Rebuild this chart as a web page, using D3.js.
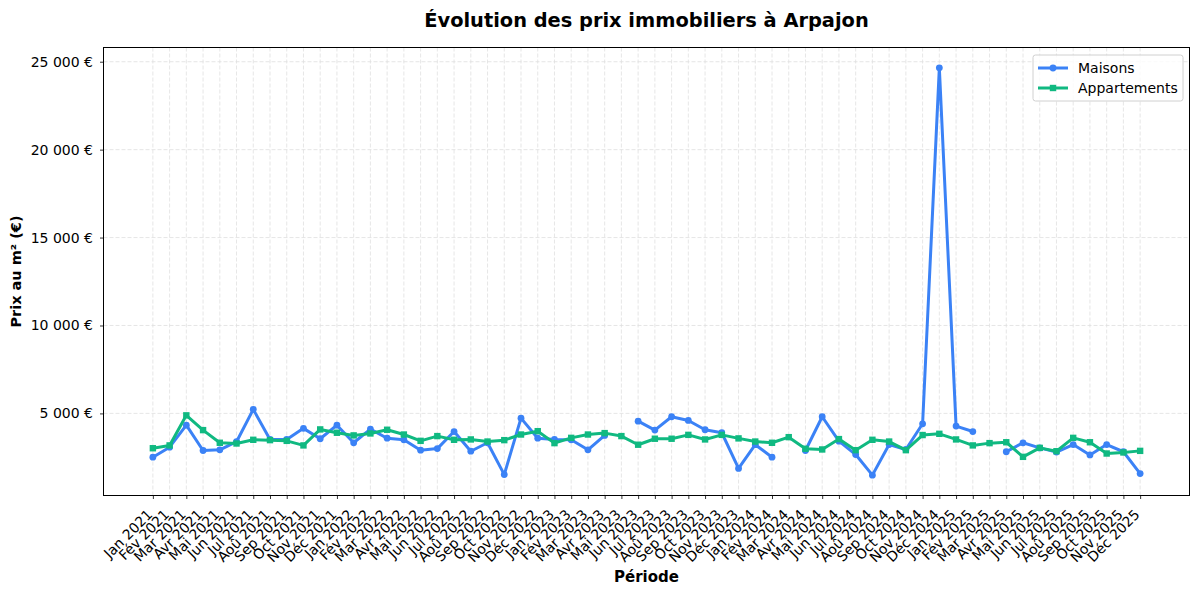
<!DOCTYPE html>
<html>
<head>
<meta charset="utf-8">
<script src="https://cdn.jsdelivr.net/npm/d3@7"></script>
<style>
  html, body { margin: 0; padding: 0; background: #fff; }
  svg { display: block; font-family: "DejaVu Sans", sans-serif; }
</style>
</head>
<body>
<svg id="chart" width="1200" height="594"></svg>
<script>
const monthNames = ["Jan","Fév","Mar","Avr","Mai","Jun","Jul","Aoû","Sep","Oct","Nov","Déc"];
const years = [2021, 2022, 2023, 2024, 2025];
const periods = years.flatMap(y => monthNames.map(m => m + " " + y));

const maisons = [
  2510, 3080, 4330, 2890, 2930, 3390, 5230, 3520, 3520, 4150, 3560, 4330,
  3330, 4110, 3590, 3500, 2910, 3000, 3970, 2850, 3330, 1520, 4730, 3590,
  3520, 3500, 2930, 3750, null, 4560, 4050, 4810, 4600, 4070, 3900, 1870,
  3220, 2510, null, 2890, 4810, 3420, 2660, 1490, 3230, 2950, 4410, 24650,
  4280, 3970, null, 2820, 3330, 3040, 2800, 3230, 2640, 3230, 2820, 1580
];
const appartements = [
  3020, 3180, 4890, 4050, 3330, 3290, 3500, 3480, 3440, 3180, 4090, 3900,
  3750, 3860, 4070, 3800, 3440, 3710, 3500, 3520, 3400, 3480, 3800, 3990,
  3310, 3610, 3800, 3880, 3710, 3220, 3560, 3560, 3780, 3520, 3780, 3580,
  3400, 3330, 3650, 2990, 2950, 3540, 2910, 3500, 3400, 2910, 3770, 3840,
  3520, 3180, 3310, 3360, 2530, 3040, 2850, 3610, 3360, 2720, 2780, 2870
];
const yTicks = [5000, 10000, 15000, 20000, 25000];

const series = [
  { name: "Maisons", values: maisons, color: "#3b82f6", marker: "circle" },
  { name: "Appartements", values: appartements, color: "#10b981", marker: "square" }
];

const svg = d3.select("#chart");
const m = { left: 103.5, top: 47.5, right: 1189.5, bottom: 495.5 };

const n = periods.length;
const xPad = (n - 1) * 0.05;
const x = d3.scaleLinear().domain([-xPad, n - 1 + xPad]).range([m.left, m.right]);

const allVals = maisons.concat(appartements).filter(v => v != null);
const [vmin, vmax] = d3.extent(allVals);
const yPad = (vmax - vmin) * 0.05;
const y = d3.scaleLinear().domain([vmin - yPad, vmax + yPad]).range([m.bottom, m.top]);

// Grid
const grid = svg.append("g");
grid.selectAll("line.gx").data(d3.range(n)).join("line")
  .attr("x1", d => x(d)).attr("x2", d => x(d))
  .attr("y1", m.top).attr("y2", m.bottom)
  .attr("stroke", "#e0e0e0").attr("stroke-width", 0.8).attr("stroke-dasharray", "4,2");
grid.selectAll("line.gy").data(yTicks).join("line")
  .attr("x1", m.left).attr("x2", m.right)
  .attr("y1", d => y(d)).attr("y2", d => y(d))
  .attr("stroke", "#e0e0e0").attr("stroke-width", 0.8).attr("stroke-dasharray", "4,2");

// Axes
const fmt = v => d3.format(",")(v).replace(/,/g, " ") + " €";
const yAxis = d3.axisLeft(y).tickValues(yTicks).tickFormat(fmt).tickSize(3.5).tickPadding(7);
const gy = svg.append("g").attr("transform", `translate(${m.left},0)`).call(yAxis);
gy.select(".domain").remove();
gy.selectAll("text").attr("font-size", 14).attr("fill", "#000").attr("font-family", "DejaVu Sans");
gy.selectAll("line").attr("stroke", "#000").attr("stroke-width", 0.8);

const xAxis = d3.axisBottom(x).tickValues(d3.range(n)).tickFormat(i => periods[i]).tickSize(3.5);
const gx = svg.append("g").attr("transform", `translate(0,${m.bottom})`).call(xAxis);
gx.select(".domain").remove();
gx.selectAll("line").attr("stroke", "#000").attr("stroke-width", 0.8);
gx.selectAll("text")
  .attr("font-size", 14).attr("fill", "#000").attr("font-family", "DejaVu Sans")
  .attr("text-anchor", "end")
  .attr("dy", null).attr("y", null)
  .attr("transform", "translate(0,20) rotate(-45)");

// Lines
const line = d3.line().defined(d => d.v != null).x(d => x(d.i)).y(d => y(d.v));
const gLines = svg.append("g");
series.forEach(s => {
  const pts = s.values.map((v, i) => ({ i, v }));
  gLines.append("path").datum(pts)
    .attr("fill", "none").attr("stroke", s.color).attr("stroke-width", 3)
    .attr("stroke-linejoin", "round").attr("stroke-linecap", "round")
    .attr("d", line);
  const valid = pts.filter(d => d.v != null);
  if (s.marker === "circle") {
    gLines.selectAll(null).data(valid).join("circle")
      .attr("cx", d => x(d.i)).attr("cy", d => y(d.v)).attr("r", 3.4).attr("fill", s.color);
  } else {
    gLines.selectAll(null).data(valid).join("rect")
      .attr("x", d => x(d.i) - 3.2).attr("y", d => y(d.v) - 3.2)
      .attr("width", 6.4).attr("height", 6.4).attr("fill", s.color);
  }
});

// Frame
svg.append("rect").attr("x", m.left).attr("y", m.top)
  .attr("width", m.right - m.left).attr("height", m.bottom - m.top)
  .attr("fill", "none").attr("stroke", "#000").attr("stroke-width", 1);

// Title & labels
svg.append("text").attr("x", (m.left + m.right) / 2).attr("y", 27)
  .attr("text-anchor", "middle").attr("font-size", 19.4).attr("font-weight", "bold")
  .text("Évolution des prix immobiliers à Arpajon");
svg.append("text").attr("x", (m.left + m.right) / 2).attr("y", 582)
  .attr("text-anchor", "middle").attr("font-size", 15).attr("font-weight", "bold")
  .text("Période");
svg.append("text").attr("transform", `translate(21,${(m.top + m.bottom) / 2}) rotate(-90)`)
  .attr("text-anchor", "middle").attr("font-size", 14.5).attr("font-weight", "bold")
  .text("Prix au m² (€)");

// Legend
const lg = svg.append("g").attr("transform", "translate(1033,55)");
lg.append("rect").attr("width", 150).attr("height", 46).attr("rx", 2.5)
  .attr("fill", "#fff").attr("fill-opacity", 0.8).attr("stroke", "#d0d0d0").attr("stroke-width", 1);
series.forEach((s, k) => {
  const yy = 13 + k * 20;
  lg.append("line").attr("x1", 5).attr("x2", 35).attr("y1", yy).attr("y2", yy)
    .attr("stroke", s.color).attr("stroke-width", 3);
  if (s.marker === "circle") {
    lg.append("circle").attr("cx", 20).attr("cy", yy).attr("r", 3.4).attr("fill", s.color);
  } else {
    lg.append("rect").attr("x", 16.8).attr("y", yy - 3.2).attr("width", 6.4).attr("height", 6.4).attr("fill", s.color);
  }
  lg.append("text").attr("x", 45).attr("y", yy + 5).attr("font-size", 14).text(s.name);
});
</script>
</body>
</html>
